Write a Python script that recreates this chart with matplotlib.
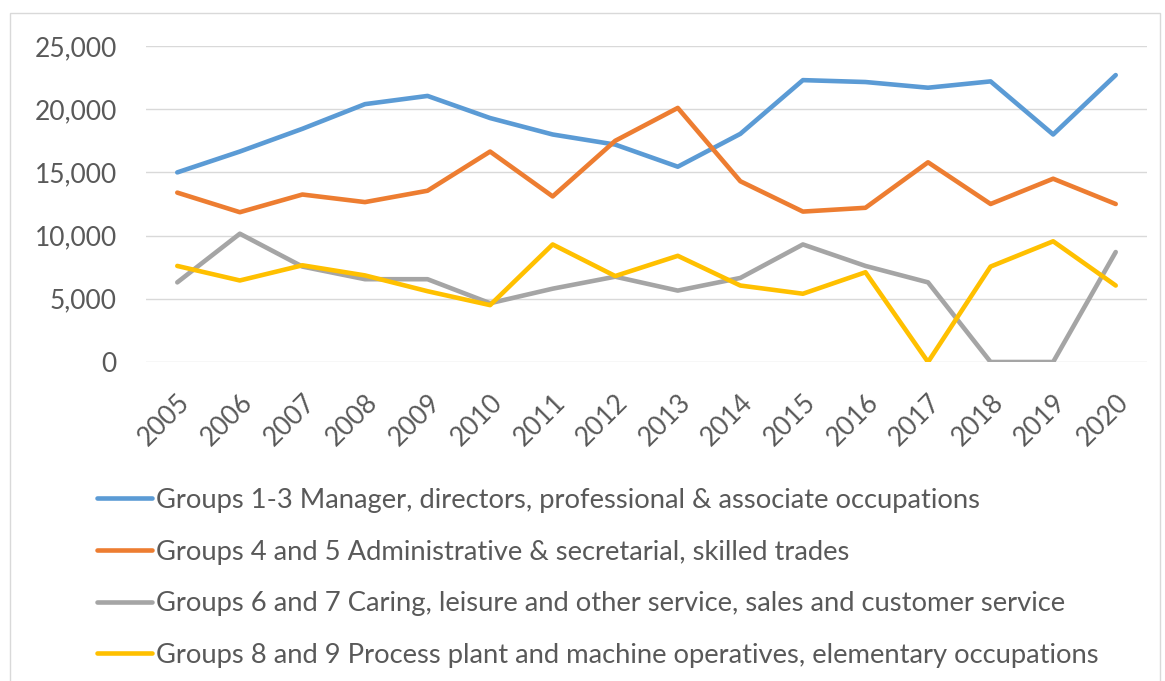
import matplotlib
matplotlib.use("Agg")
import matplotlib.pyplot as plt
from matplotlib.patches import Rectangle

# data
years = ['2005', '2006', '2007', '2008', '2009', '2010', '2011', '2012',
         '2013', '2014', '2015', '2016', '2017', '2018', '2019', '2020']
groups_1_3 = [15000, 16650, 18450, 20400, 21050, 19300, 18000, 17200,
              15450, 18050, 22300, 22150, 21700, 22200, 18000, 22700]
groups_4_5 = [13400, 11850, 13250, 12650, 13550, 16650, 13100, 17500,
              20100, 14300, 11900, 12200, 15800, 12500, 14500, 12500]
groups_6_7 = [6300, 10150, 7550, 6550, 6550, 4650, 5800, 6750,
              5650, 6650, 9300, 7600, 6300, 0, 0, 8700]
groups_8_9 = [7600, 6450, 7650, 6850, 5600, 4500, 9300, 6800,
              8400, 6050, 5400, 7100, 0, 7550, 9550, 6050]
labels = ['Groups 1-3 Manager, directors, professional & associate occupations',
          'Groups 4 and 5 Administrative & secretarial, skilled trades',
          'Groups 6 and 7 Caring, leisure and other service, sales and customer service',
          'Groups 8 and 9 Process plant and machine operatives, elementary occupations']
colors = ['#5B9BD5', '#ED7D31', '#A5A5A5', '#FFC000']

plt.rcParams['font.family'] = ['Lato', 'DejaVu Sans']
txt = '#595959'

fig = plt.figure(figsize=(11.65, 6.81), dpi=100)
# chart border
fig.patches.append(Rectangle((10/1165, -0.05), 1150/1165, 1.05 - 13/681,
                             transform=fig.transFigure, fill=False,
                             edgecolor='#d9d9d9', linewidth=1))
ax = fig.add_axes([146/1165, 1 - 362/681, 1001/1165, 316/681])

x = range(len(years))
for vals, c, lab in zip([groups_1_3, groups_4_5, groups_6_7, groups_8_9], colors, labels):
    ax.plot(x, vals, color=c, linewidth=3.3, label=lab,
            solid_capstyle='round', solid_joinstyle='round')

ax.set_xlim(-0.5, len(years) - 0.5)
ax.set_ylim(0, 25000)
ax.set_yticks(range(0, 25001, 5000))
ax.set_yticklabels(['{:,}'.format(v) for v in range(0, 25001, 5000)])
ax.set_xticks(list(x))
ax.set_xticklabels(years, rotation=45, ha='right', rotation_mode='anchor')
ax.grid(axis='y', color='#d9d9d9', linewidth=1)
ax.set_axisbelow(True)
for s in ax.spines.values():
    s.set_visible(False)
ax.tick_params(axis='both', length=0, labelsize=19, colors=txt)
ax.tick_params(axis='y', pad=21)
ax.tick_params(axis='x', pad=20)

leg = ax.legend(loc='upper left', bbox_to_anchor=(97/1165, 1 - 488/681),
                bbox_transform=fig.transFigure, frameon=False, fontsize=19.7,
                handlelength=2.0, handletextpad=0.15, labelspacing=0.97,
                borderaxespad=0, borderpad=0)
for t in leg.get_texts():
    t.set_color(txt)
for h in leg.get_lines():
    h.set_linewidth(3.3)

fig.savefig('out.png', dpi=100)
